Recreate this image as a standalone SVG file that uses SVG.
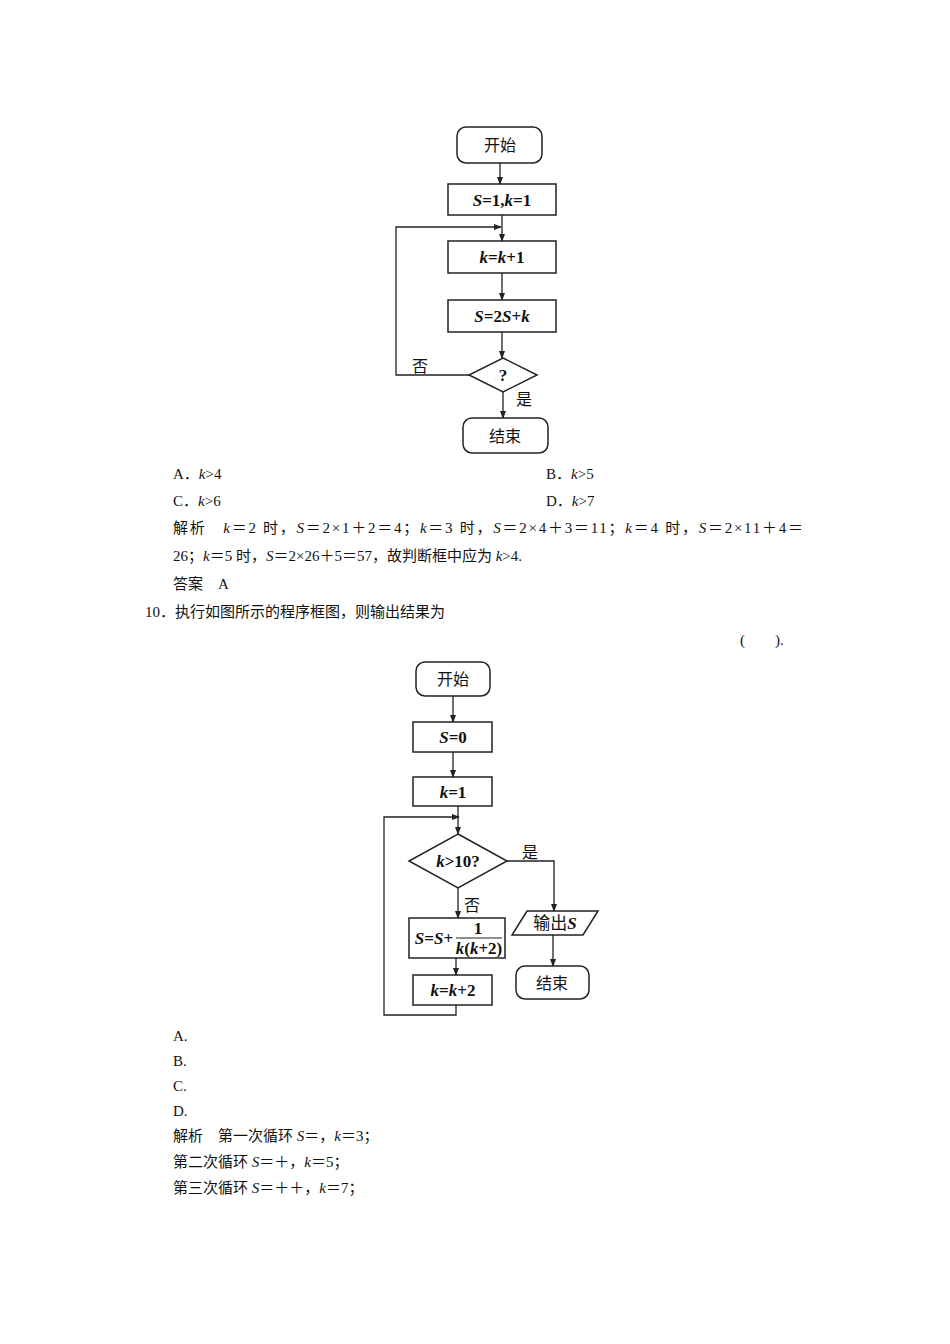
<svg xmlns="http://www.w3.org/2000/svg" width="950" height="1344" viewBox="0 0 950 1344">
<defs>
<marker id="ar" markerWidth="8" markerHeight="8" refX="7" refY="4" orient="auto" markerUnits="userSpaceOnUse"><path d="M0,1 L8,4 L0,7 Z" fill="#222"/></marker>
<style>
.b{fill:#fff;stroke:#222;stroke-width:1.5}
.c{fill:none;stroke:#222;stroke-width:1.3}
.t{font-family:"Liberation Serif","Noto Sans CJK SC",serif;font-size:17px;font-weight:bold;fill:#111;text-anchor:middle}
.z{font-family:"Noto Sans CJK SC",sans-serif;font-size:16px;fill:#111;text-anchor:middle}
.p{font-family:"Liberation Serif","Noto Sans CJK SC",serif;font-size:15px;fill:#111}
</style>
</defs>
<rect width="950" height="1344" fill="#fff"/>
<g id="connectors1">
<path class="c" d="M500,163 V184" marker-end="url(#ar)"/>
<path class="c" d="M502,215 V241" marker-end="url(#ar)"/>
<path class="c" d="M469,375 H396 V227 H501" marker-end="url(#ar)"/>
<path class="c" d="M502,273 V300" marker-end="url(#ar)"/>
<path class="c" d="M502,332 V358" marker-end="url(#ar)"/>
<path class="c" d="M503,392 V418" marker-end="url(#ar)"/>
</g>
<g id="start1"><rect class="b" x="457" y="127" width="85" height="36" rx="9"/><text class="z" x="500" y="151">开始</text></g>
<g id="init1"><rect class="b" x="448" y="184" width="108" height="31"/><text class="t" x="502" y="206"><tspan font-style="italic">S</tspan>=1,<tspan font-style="italic">k</tspan>=1</text></g>
<g id="inc1"><rect class="b" x="448" y="241" width="108" height="32"/><text class="t" x="502" y="263"><tspan font-style="italic">k</tspan>=<tspan font-style="italic">k</tspan>+1</text></g>
<g id="calc1"><rect class="b" x="448" y="300" width="108" height="32"/><text class="t" x="502" y="322"><tspan font-style="italic">S</tspan>=2<tspan font-style="italic">S</tspan>+<tspan font-style="italic">k</tspan></text></g>
<g id="cond1"><polygon class="b" points="503,358 537,375 503,392 469,375"/><text class="t" x="503" y="381">?</text></g>
<text class="z" x="420" y="372">否</text>
<text class="z" x="524" y="405">是</text>
<g id="end1"><rect class="b" x="463" y="418" width="85" height="35" rx="9"/><text class="z" x="505" y="442">结束</text></g>

<text class="p" x="173" y="479">A．<tspan font-style="italic">k</tspan>&gt;4</text>
<text class="p" x="546" y="479">B．<tspan font-style="italic">k</tspan>&gt;5</text>
<text class="p" x="173" y="506">C．<tspan font-style="italic">k</tspan>&gt;6</text>
<text class="p" x="546" y="506">D．<tspan font-style="italic">k</tspan>&gt;7</text>
<text class="p" x="173" y="533" textLength="630">解析　<tspan font-style="italic">k</tspan>＝2 时，<tspan font-style="italic">S</tspan>＝2×1＋2＝4；<tspan font-style="italic">k</tspan>＝3 时，<tspan font-style="italic">S</tspan>＝2×4＋3＝11；<tspan font-style="italic">k</tspan>＝4 时，<tspan font-style="italic">S</tspan>＝2×11＋4＝</text>
<text class="p" x="173" y="561">26；<tspan font-style="italic">k</tspan>＝5 时，<tspan font-style="italic">S</tspan>＝2×26＋5＝57，故判断框中应为 <tspan font-style="italic">k</tspan>&gt;4.</text>
<text class="p" x="173" y="589">答案　A</text>
<text class="p" x="145" y="617">10．执行如图所示的程序框图，则输出结果为</text>
<text class="p" x="740" y="645">(　　).</text>

<g id="connectors2">
<path class="c" d="M453,696 V722" marker-end="url(#ar)"/>
<path class="c" d="M453,752 V777" marker-end="url(#ar)"/>
<path class="c" d="M458,806 V834" marker-end="url(#ar)"/>
<path class="c" d="M456,1005 V1015 H384 V817 H459" marker-end="url(#ar)"/>
<path class="c" d="M507,861 H554 V911" marker-end="url(#ar)"/>
<path class="c" d="M458,888 V918" marker-end="url(#ar)"/>
<path class="c" d="M456,958 V975" marker-end="url(#ar)"/>
<path class="c" d="M553,935 V966" marker-end="url(#ar)"/>
</g>
<g id="start2"><rect class="b" x="416" y="662" width="74" height="34" rx="9"/><text class="z" x="453" y="685">开始</text></g>
<g id="s0"><rect class="b" x="413" y="722" width="79" height="30"/><text class="t" x="453" y="743"><tspan font-style="italic">S</tspan>=0</text></g>
<g id="k1"><rect class="b" x="413" y="777" width="79" height="29"/><text class="t" x="453" y="798"><tspan font-style="italic">k</tspan>=1</text></g>
<g id="cond2"><polygon class="b" points="458,834 507,861 458,888 409,861"/><text class="t" x="458" y="867"><tspan font-style="italic">k</tspan>&gt;10?</text></g>
<text class="z" x="530" y="858">是</text>
<text class="z" x="472" y="911">否</text>
<g id="sum2"><rect class="b" x="409" y="918" width="96" height="40"/>
<text class="t" x="434" y="944"><tspan font-style="italic">S</tspan>=<tspan font-style="italic">S</tspan>+</text>
<text class="t" x="478" y="934" font-size="15">1</text>
<line x1="456" y1="938" x2="502" y2="938" stroke="#222" stroke-width="1.2"/>
<text class="t" x="479" y="954" font-size="15"><tspan font-style="italic">k</tspan>(<tspan font-style="italic">k</tspan>+2)</text></g>
<g id="inc2"><rect class="b" x="413" y="975" width="79" height="30"/><text class="t" x="453" y="996"><tspan font-style="italic">k</tspan>=<tspan font-style="italic">k</tspan>+2</text></g>
<g id="out2"><polygon class="b" points="527,911 598,911 583,935 512,935"/><text class="t" x="555" y="929"><tspan font-family="Noto Sans CJK SC" font-weight="normal">输出</tspan><tspan font-style="italic">S</tspan></text></g>
<g id="end2"><rect class="b" x="516" y="966" width="73" height="33" rx="9"/><text class="z" x="552" y="989">结束</text></g>

<text class="p" x="173" y="1041">A.</text>
<text class="p" x="173" y="1066">B.</text>
<text class="p" x="173" y="1091">C.</text>
<text class="p" x="173" y="1116">D.</text>
<text class="p" x="173" y="1141">解析　第一次循环 <tspan font-style="italic">S</tspan>＝，<tspan font-style="italic">k</tspan>＝3；</text>
<text class="p" x="173" y="1167">第二次循环 <tspan font-style="italic">S</tspan>＝＋，<tspan font-style="italic">k</tspan>＝5；</text>
<text class="p" x="173" y="1193">第三次循环 <tspan font-style="italic">S</tspan>＝＋＋，<tspan font-style="italic">k</tspan>＝7；</text>
</svg>
